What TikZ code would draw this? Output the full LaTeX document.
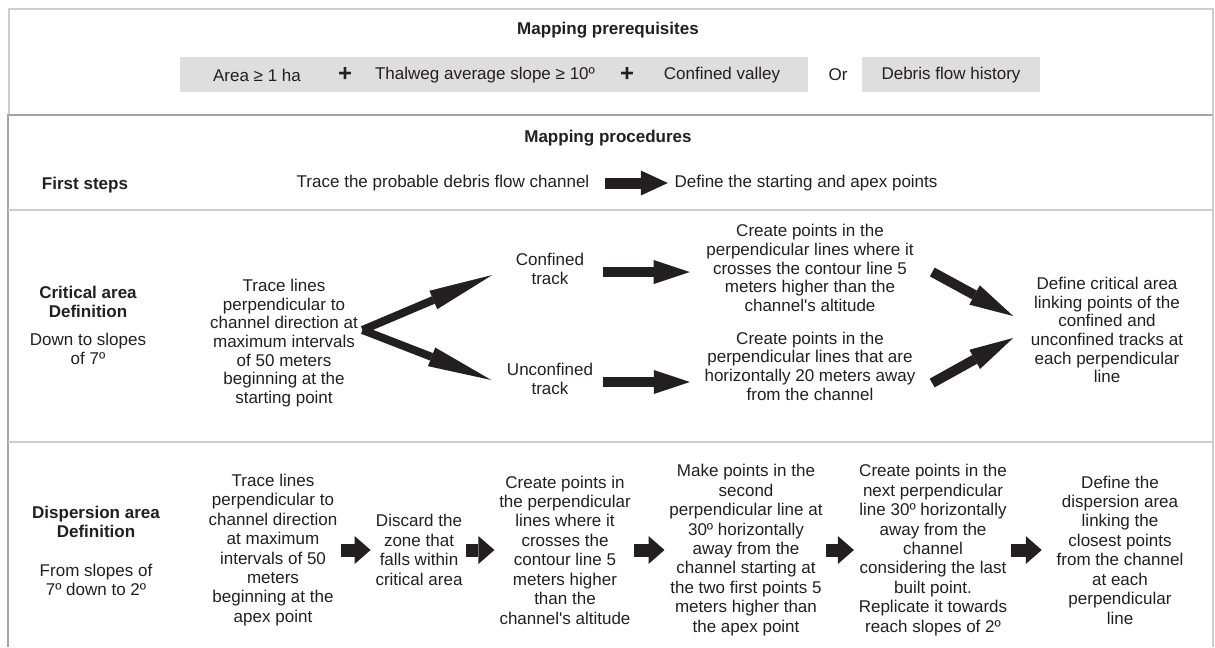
\documentclass[tikz,border=0pt]{standalone}
\usepackage{fontspec}
\setmainfont{Liberation Sans}
\usetikzlibrary{arrows.meta,calc}
\definecolor{ink}{HTML}{231F20}
\definecolor{boxgrey}{HTML}{DEDEDE}
\definecolor{rulegrey}{HTML}{CDCDCD}
\definecolor{edgegrey}{HTML}{A5A5A5}

\begin{document}
\begin{tikzpicture}[x=0.025cm, y=-0.025cm,
    every node/.style={text=ink, inner sep=1pt, align=center,
      font=\fontsize{12.1pt}{13.3pt}\selectfont},
    head/.style={font=\fontsize{12.1pt}{13.3pt}\selectfont\bfseries},
    tall/.style={font=\fontsize{12.1pt}{13.8pt}\selectfont},
    plus/.style={font=\fontsize{17pt}{17pt}\selectfont\bfseries},
    stepsarrow/.style={draw=ink, line width=0.275cm,
      -{Triangle[length=0.675cm, width=0.625cm, line width=0pt]}},
    trackarrow/.style={draw=ink, line width=0.25cm,
      -{Triangle[length=0.9cm, width=0.6cm, line width=0pt]}},
    forkarrow/.style={draw=ink, line width=0.2cm,
      -{Triangle[length=1.6cm, width=0.5cm, line width=0pt]}},
    linkarrow/.style={draw=ink, line width=0.25cm,
      -{Triangle[length=1.1cm, width=0.55cm, line width=0pt]}},
    chainarrow/.style={draw=ink, line width=0.325cm, shorten <=0.05cm, shorten >=0.08cm,
      -{Triangle[length=0.4cm, width=0.7cm, line width=0pt]}}]
  \useasboundingbox (0,0) rectangle (1215,647);

  % frames
  \draw[rulegrey, line width=0.035cm] (9,9) rectangle (1213,115);
  \draw[edgegrey, line width=0.035cm] (8,647) -- (8,115) -- (1213,115);
  \draw[rulegrey, line width=0.035cm] (1213,115) -- (1213,647);
  \draw[rulegrey, line width=0.05cm] (8,210) -- (1213,210);
  \draw[rulegrey, line width=0.05cm] (8,442) -- (1213,442);

  % prerequisites
  \node[head] (prereq) at (608,30) {Mapping prerequisites};
  \fill[boxgrey] (180,57) rectangle (808,92);
  \fill[boxgrey] (862,57) rectangle (1040,92);
  \node (area) at (257,75) {Area ≥ 1 ha};
  \node[plus] (plusa) at (345,74) {+};
  \node (slope) at (485,75) {Thalweg average slope ≥ 10º};
  \node[plus] (plusb) at (627,74) {+};
  \node (valley) at (722,75) {Confined valley};
  \node (or) at (838,75) {Or};
  \node (history) at (951,75) {Debris flow history};

  % first steps
  \node[head] (procedures) at (608,138) {Mapping procedures};
  \node[head] (firststeps) at (85,185) {First steps};
  \node (trace) at (443,183) {Trace the probable debris flow channel};
  \node (points) at (806,183) {Define the starting and apex points};
  \draw[stepsarrow, shorten <=0.35cm, shorten >=0.125cm] (trace.east) -- (points.west);

  % critical area
  \node[head] (crithead) at (88,302) {Critical area\\Definition};
  \node (critrange) at (88,349) {Down to slopes\\of 7º};
  \node (perpc) at (284,343) {Trace lines\\perpendicular to\\channel direction at\\maximum intervals\\of 50 meters\\beginning at the\\starting point};
  \coordinate (fork) at ($(perpc.east)+(3,-13)$);
  \node (conf) at (550,269) {Confined\\track};
  \node (unconf) at (550,379) {Unconfined\\track};
  \node (ptsconf) at (810,268) {Create points in the\\perpendicular lines where it\\crosses the contour line 5\\meters higher than the\\channel\textquotesingle s altitude};
  \node (ptsunconf) at (810,366) {Create points in the\\perpendicular lines that are\\horizontally 20 meters away\\from the channel};
  \node (critical) at (1107,330) {Define critical area\\linking points of the\\confined and\\unconfined tracks at\\each perpendicular\\line};
  \draw[forkarrow] (fork) -- ($(conf.west)+(-22,6)$);
  \draw[forkarrow] (fork) -- ($(unconf.west)+(-14,1)$);
  \draw[trackarrow] ($(conf.east)+(17,3)$) -- ($(conf.east -| ptsconf.west)+(-15,3)$);
  \draw[trackarrow] ($(unconf.east)+(8,3)$) -- ($(unconf.east -| ptsunconf.west)+(-13,3)$);
  \draw[linkarrow] ($(ptsconf.east)+(17,4)$) -- ($(critical.west)+(-16,-14)$);
  \draw[linkarrow] ($(ptsunconf.east)+(15,17)$) -- ($(critical.west)+(-16,8)$);

  % dispersion area
  \node[head] (disphead) at (96,522) {Dispersion area\\Definition};
  \node (disprange) at (96,580) {From slopes of\\7º down to 2º};
  \node[tall] (perpd) at (273,550) {Trace lines\\perpendicular to\\channel direction\\at maximum\\intervals of 50\\meters\\beginning at the\\apex point};
  \node[tall] (discard) at (419,550) {Discard the\\zone that\\falls within\\critical area};
  \node[tall] (ptsd) at (565,550) {Create points in\\the perpendicular\\lines where it\\crosses the\\contour line 5\\meters higher\\than the\\channel\textquotesingle s altitude};
  \node[tall] (second) at (746,550) {Make points in the\\second\\perpendicular line at\\30º horizontally\\away from the\\channel starting at\\the two first points 5\\meters higher than\\the apex point};
  \node[tall] (next) at (933,550) {Create points in the\\next perpendicular\\line 30º horizontally\\away from the\\channel\\considering the last\\built point.\\Replicate it towards\\reach slopes of 2º};
  \node[tall] (dispersion) at (1120,550) {Define the\\dispersion area\\linking the\\closest points\\from the channel\\at each\\perpendicular\\line};
  \draw[chainarrow] (perpd.east) -- (discard.west);
  \draw[chainarrow] (discard.east) -- (ptsd.west);
  \draw[chainarrow] (ptsd.east) -- (second.west);
  \draw[chainarrow] (second.east) -- (next.west);
  \draw[chainarrow, shorten >=0.33cm] (next.east) -- (dispersion.west);
\end{tikzpicture}
\end{document}
